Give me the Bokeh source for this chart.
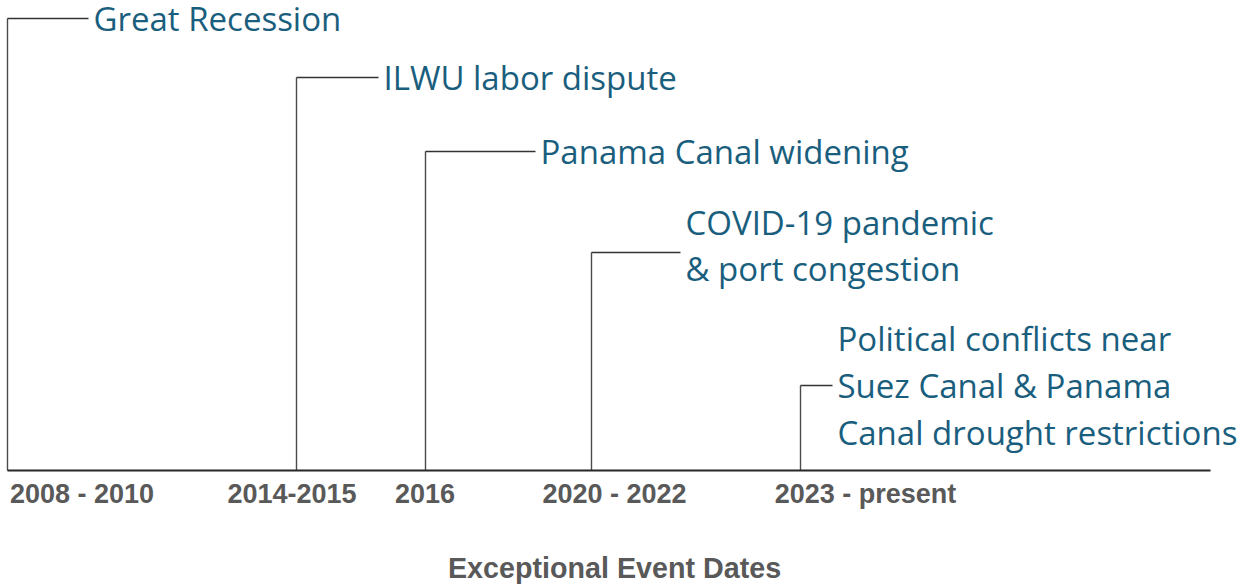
from bokeh.plotting import figure
from bokeh.models import ColumnDataSource, Range1d
from bokeh.core.properties import value
from bokeh.embed import file_html
from bokeh.resources import INLINE

# ---- data (timeline units) ----
events = ["Great Recession", "ILWU labor dispute", "Panama Canal widening",
          "COVID-19 pandemic\n& port congestion",
          "Political conflicts near\nSuez Canal & Panama\nCanal drought restrictions"]
event_pos = [0, 289, 418, 584, 793]          # position of each event on the timeline
event_height = [452, 393, 319, 218, 85]      # height of each leader line
leader_len = [81, 82, 110, 89, 32]           # horizontal run of each leader
label_shift = [0, 0, 0, 7, 0]                # vertical shift of label block vs leader

tick_labels = ["2008 - 2010", "2014-2015", "2016", "2020 - 2022", "2023 - present"]
tick_pos = [74.5, 284.5, 417.5, 607, 858]
timeline_end = 1203
axis_title = "Exceptional Event Dates"

TEXT_COLOR = "#1A5E7E"
GRAY = "#595959"

p = figure(frame_width=1259, frame_height=584, output_backend="svg",
           toolbar_location=None, x_range=Range1d(-7, 1252), y_range=Range1d(-114, 470),
           min_border=0, outline_line_color=None,
           background_fill_color="white", border_fill_color="white")
p.grid.visible = False
p.axis.visible = False

src = ColumnDataSource(dict(
    x=event_pos, y0=[0] * len(event_pos), y1=event_height,
    x1=[a + b for a, b in zip(event_pos, leader_len)],
    tx=[a + b + 5 for a, b in zip(event_pos, leader_len)],
    ty=[h + s for h, s in zip(event_height, label_shift)],
    label=events))

# vertical leader lines and horizontal runs
p.segment(x0="x", y0="y0", x1="x", y1="y1", source=src, line_color="#4a4a4a", line_width=1.4)
p.segment(x0="x", y0="y1", x1="x1", y1="y1", source=src, line_color="#333333", line_width=1.4)

# timeline base line
p.segment(x0=[event_pos[0]], y0=[0], x1=[timeline_end], y1=[0], line_color="#262626", line_width=2)

p.text(x="tx", y="ty", text="label", source=src, text_font=value("Open Sans"),
       text_font_size="33px", text_color=TEXT_COLOR, text_baseline="middle",
       text_align="left", text_line_height=1.04)

# date labels under the timeline
tick_src = ColumnDataSource(dict(x=tick_pos, y=[-23] * len(tick_pos), label=tick_labels))
p.text(x="x", y="y", text="label", source=tick_src, text_font=value("Liberation Sans"),
       text_font_style="bold", text_font_size="27px", text_color=GRAY,
       text_align="center", text_baseline="middle")

# axis title
p.text(x=[607], y=[-97], text=[axis_title], text_font=value("Liberation Sans"),
       text_font_style="bold", text_font_size="28.7px", text_color=GRAY,
       text_align="center", text_baseline="middle")

open("out.html", "w").write(file_html(p, INLINE))
